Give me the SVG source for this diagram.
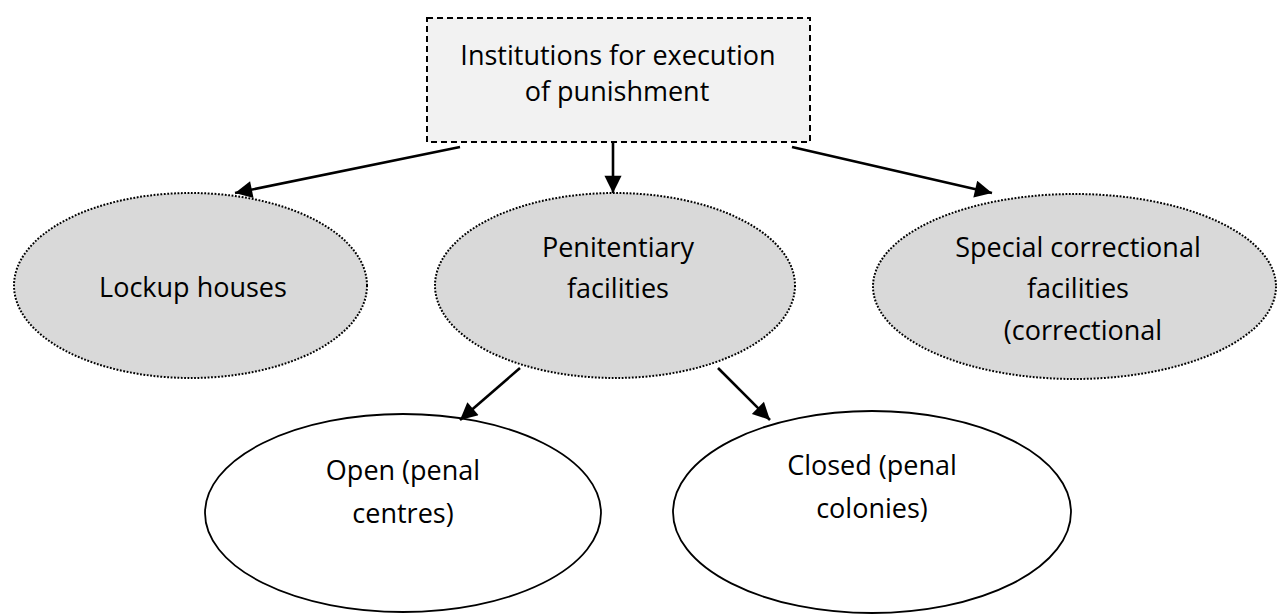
<svg xmlns="http://www.w3.org/2000/svg" width="1277" height="614" viewBox="0 0 1277 614">
<defs>
<style>
.t{font-family:"Open Sans","Noto Sans",sans-serif;font-size:27px;fill:#000;text-anchor:middle}
.gray{fill:#d9d9d9;stroke:#000;stroke-width:2;stroke-dasharray:1.8 1.6}
.white{fill:#fff;stroke:#000;stroke-width:1.8}
.conn{stroke:#000;stroke-width:2.6;fill:none;marker-end:url(#ah)}
</style>
<marker id="ah" viewBox="0 0 10 10" refX="10" refY="5" markerWidth="8" markerHeight="6.6" orient="auto" markerUnits="strokeWidth">
<path d="M0,0 L10,5 L0,10 z" fill="#000"/>
</marker>
</defs>
<rect width="1277" height="614" fill="#fff"/>
<g id="root">
<rect x="427" y="18" width="383" height="124" fill="#f2f2f2" stroke="#000" stroke-width="2" stroke-dasharray="6 4"/>
<text class="t" x="618" y="65">Institutions for execution</text>
<text class="t" x="617" y="101">of punishment</text>
</g>
<g id="lockup">
<ellipse class="gray" cx="190.5" cy="285.5" rx="176.5" ry="92.5"/>
<text class="t" x="193" y="297">Lockup houses</text>
</g>
<g id="penitentiary">
<ellipse class="gray" cx="615" cy="285.5" rx="180" ry="92.5"/>
<text class="t" x="618" y="257">Penitentiary</text>
<text class="t" x="618" y="298">facilities</text>
</g>
<g id="special">
<ellipse class="gray" cx="1074.5" cy="286.5" rx="201.5" ry="92.5"/>
<text class="t" x="1078" y="257">Special correctional</text>
<text class="t" x="1078" y="298">facilities</text>
<text class="t" x="1083" y="340">(correctional</text>
</g>
<g id="open">
<ellipse class="white" cx="403" cy="513" rx="198" ry="99"/>
<text class="t" x="403" y="480">Open (penal</text>
<text class="t" x="403" y="523">centres)</text>
</g>
<g id="closed">
<ellipse class="white" cx="872" cy="512" rx="199" ry="101"/>
<text class="t" x="872" y="475">Closed (penal</text>
<text class="t" x="872" y="518">colonies)</text>
</g>
<g id="connectors">
<line class="conn" x1="460" y1="147" x2="235" y2="193"/>
<line class="conn" x1="613" y1="143" x2="613" y2="193"/>
<line class="conn" x1="792" y1="147" x2="992" y2="193"/>
<line class="conn" x1="520" y1="368" x2="460" y2="420"/>
<line class="conn" x1="718" y1="368" x2="770" y2="420"/>
</g>
</svg>
